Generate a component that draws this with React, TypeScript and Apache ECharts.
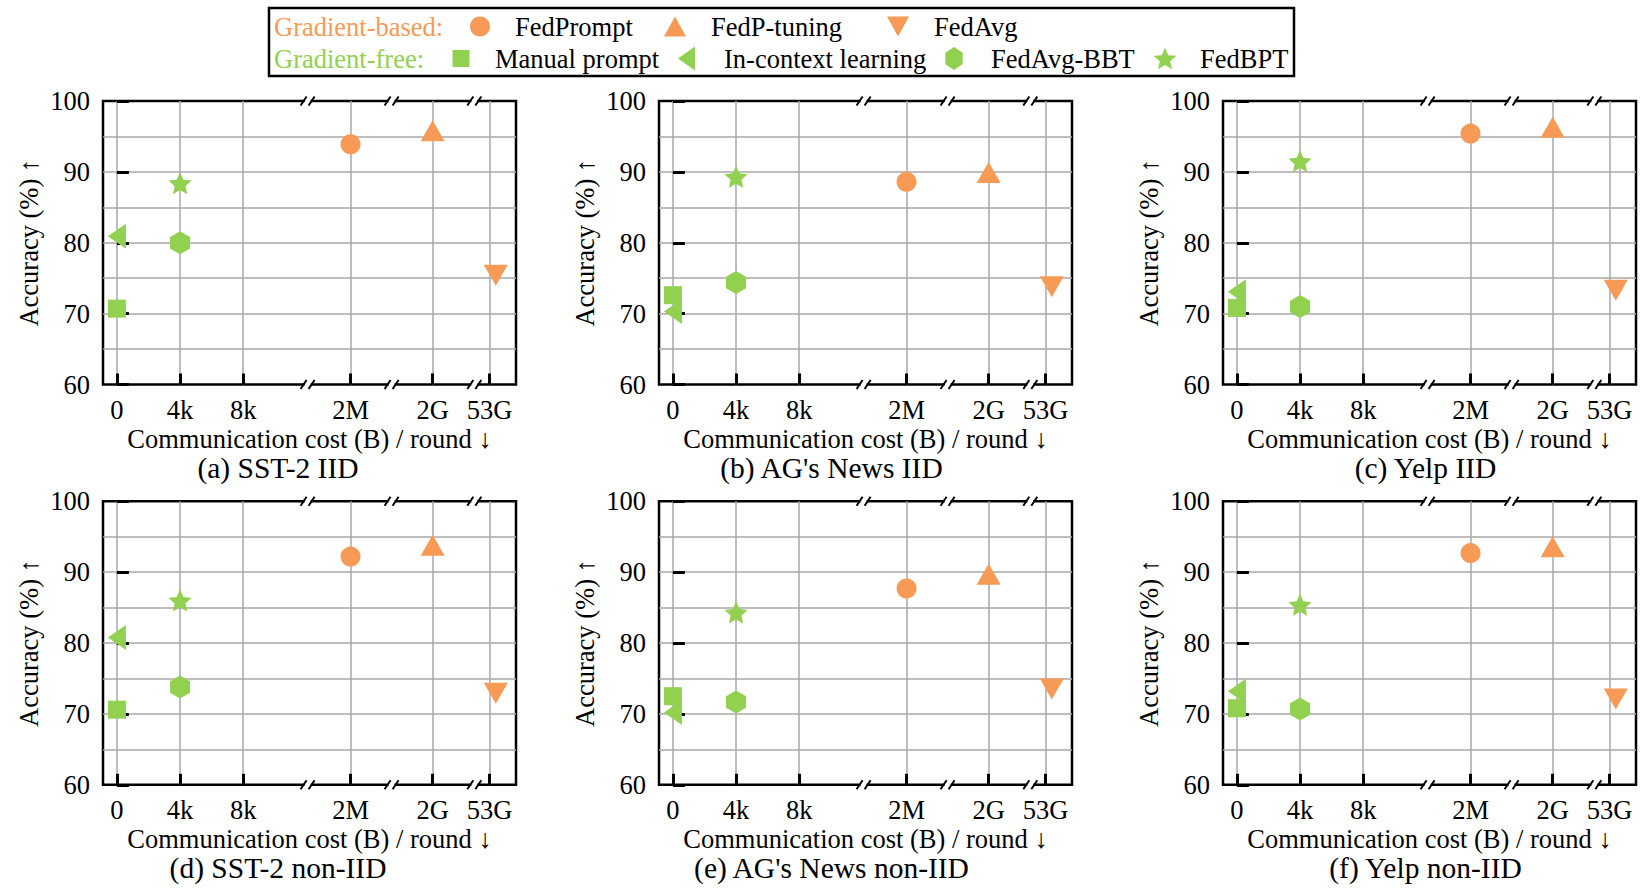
import React, { useEffect, useRef } from 'react';
import * as echarts from 'echarts';

// ---------- data ----------
const panelTitles = [
  '(a) SST-2 IID',
  "(b) AG's News IID",
  '(c) Yelp IID',
  '(d) SST-2 non-IID',
  "(e) AG's News non-IID",
  '(f) Yelp non-IID',
];
const xTickValues = [0, 1, 2, 3.7, 5, 5.9];
const xTickLabels = ['0', '4k', '8k', '2M', '2G', '53G'];
const xBreaks = [3.02, 4.35, 5.66];
const yTicks = [60, 70, 80, 90, 100];

const methods = ['FedPrompt', 'FedP-tuning', 'FedAvg', 'Manual prompt', 'In-context learning', 'FedAvg-BBT', 'FedBPT'];
const methodCost = [3.7, 5, 6.0, 0, 0, 1, 1]; // position on the broken cost axis

// accuracy per panel (a..f)
const fedPrompt = [93.9, 88.6, 95.4, 92.2, 87.7, 92.7];
const fedPTuning = [95.8, 89.9, 96.3, 93.8, 89.7, 93.6];
const fedAvg = [75.4, 73.8, 73.3, 72.9, 73.5, 72.1];
const manualPrompt = [70.7, 72.6, 70.8, 70.6, 72.5, 70.8];
const inContext = [80.9, 70.3, 73.1, 80.8, 70.2, 73.2];
const fedAvgBBT = [80.0, 74.4, 71.0, 73.8, 71.7, 70.7];
const fedBPT = [88.4, 89.3, 91.5, 86.0, 84.3, 85.4];
const methodValues = [fedPrompt, fedPTuning, fedAvg, manualPrompt, inContext, fedAvgBBT, fedBPT];

// ---------- style ----------
const ORANGE = '#F79A55';
const GREEN = '#92D050';
const GRID = '#A8A8A8';
const FONT = '"Liberation Serif", "Times New Roman", serif';

const HEX = 'path://M0,-10L8.66,-5L8.66,5L0,10L-8.66,5L-8.66,-5Z';
const STAR =
  'path://M0,-10L2.8,-3.85L9.51,-3.09L4.5,1.46L5.878,8.09L0,4.7L-5.878,8.09L-4.5,1.46L-9.51,-3.09L-2.8,-3.85Z';

const methodStyle = [
  { color: ORANGE, symbol: 'circle', size: 20, rotate: 0 },
  { color: ORANGE, symbol: 'triangle', size: [24, 21], rotate: 0 },
  { color: ORANGE, symbol: 'triangle', size: [24, 21], rotate: 180 },
  { color: GREEN, symbol: 'rect', size: 18, rotate: 0 },
  { color: GREEN, symbol: 'triangle', size: [25, 18], rotate: 90 },
  { color: GREEN, symbol: HEX, size: [20, 23], rotate: 0 },
  { color: GREEN, symbol: STAR, size: [23, 22], rotate: 0 },
];

const colLeft = [103, 659, 1223];
const rowTop = [101, 501.3];
const plotW = 413;
const plotH = 283.5;
const subtitleX = [278, 831.5, 1425.5];
const subtitleY = [467.5, 868];

function nearestLabel(v: number) {
  let best = 0;
  for (let i = 1; i < xTickValues.length; i++) {
    if (Math.abs(xTickValues[i] - v) < Math.abs(xTickValues[best] - v)) best = i;
  }
  return Math.abs(xTickValues[best] - v) < 1e-6 ? xTickLabels[best] : '';
}

function polyStar(cx: number, cy: number, ro: number, ri: number) {
  const pts: number[][] = [];
  for (let k = 0; k < 10; k++) {
    const r = k % 2 === 0 ? ro : ri;
    const a = -Math.PI / 2 + (k * Math.PI) / 5;
    pts.push([cx + r * Math.cos(a), cy + r * Math.sin(a)]);
  }
  return pts;
}
function polyHex(cx: number, cy: number, rx: number, ry: number) {
  const pts: number[][] = [];
  for (let k = 0; k < 6; k++) {
    const a = -Math.PI / 2 + (k * Math.PI) / 3;
    pts.push([cx + rx * Math.cos(a), cy + ry * Math.sin(a)]);
  }
  return pts;
}

function buildOption() {
  const grids: any[] = [];
  const xAxes: any[] = [];
  const yAxes: any[] = [];
  const series: any[] = [];
  const graphics: any[] = [];

  for (let p = 0; p < 6; p++) {
    const r = Math.floor(p / 3);
    const c = p % 3;
    grids.push({
      left: colLeft[c],
      top: rowTop[r],
      width: plotW,
      height: plotH,
      show: true,
      borderColor: '#000',
      borderWidth: 2.5,
      backgroundColor: 'transparent',
      containLabel: false,
    });
    xAxes.push({
      type: 'value',
      gridIndex: p,
      min: -0.22,
      max: 6.32,
      axisLine: { show: false },
      axisTick: { show: true, inside: true, length: 11, lineStyle: { color: '#000', width: 3 }, customValues: xTickValues },
      axisLabel: {
        customValues: xTickValues,
        formatter: (v: number) => nearestLabel(v),
        margin: 12,
        fontFamily: FONT,
        fontSize: 26.5,
        color: '#000',
      },
      splitLine: { show: true, lineStyle: { color: GRID, width: 1.5 } },
      name: 'Communication cost (B) / round ↓',
      nameLocation: 'middle',
      nameGap: 41,
      nameTextStyle: { fontFamily: FONT, fontSize: 26.5, color: '#000' },
    });
    yAxes.push({
      type: 'value',
      gridIndex: p,
      min: yTicks[0],
      max: yTicks[yTicks.length - 1],
      interval: 10,
      axisLine: { show: false },
      axisTick: { show: true, inside: true, length: 12, lineStyle: { color: '#000', width: 3 } },
      axisLabel: { margin: 13, fontFamily: FONT, fontSize: 26.5, color: '#000' },
      splitLine: { show: true, showMinLine: false, showMaxLine: false, lineStyle: { color: GRID, width: 1.5 } },
      minorTick: { show: false, splitNumber: 2 },
      minorSplitLine: { show: true, lineStyle: { color: GRID, width: 1.5 } },
      name: 'Accuracy (%) ↑',
      nameLocation: 'middle',
      nameGap: 61,
      nameRotate: 90,
      nameTextStyle: { fontFamily: FONT, fontSize: 26.5, color: '#000' },
    });

    methods.forEach((m, k) => {
      const st = methodStyle[k];
      series.push({
        type: 'scatter',
        name: m,
        xAxisIndex: p,
        yAxisIndex: p,
        symbol: st.symbol,
        symbolSize: st.size,
        symbolRotate: st.rotate,
        itemStyle: { color: st.color, opacity: 1 },
        z: 5,
        data: [[methodCost[k], methodValues[k][p]]],
      });
    });

    series.push({
      type: 'custom',
      xAxisIndex: p,
      yAxisIndex: p,
      clip: false,
      silent: true,
      z: 20,
      data: xBreaks.map((b) => [b, yTicks[0]]),
      renderItem: (params: any, api: any) => {
        const x = api.value(0);
        const top = api.coord([x, yTicks[yTicks.length - 1]]);
        const bot = api.coord([x, yTicks[0]]);
        const mk = (q: number[]) => [
          { type: 'rect', shape: { x: q[0] - 3, y: q[1] - 3, width: 6, height: 6 }, style: { fill: '#fff' } },
          { type: 'line', shape: { x1: q[0] - 7, y1: q[1] + 4.5, x2: q[0] - 1, y2: q[1] - 4.5 }, style: { stroke: '#000', lineWidth: 2 } },
          { type: 'line', shape: { x1: q[0] + 1, y1: q[1] + 4.5, x2: q[0] + 7, y2: q[1] - 4.5 }, style: { stroke: '#000', lineWidth: 2 } },
        ];
        return { type: 'group', children: [...mk(top), ...mk(bot)] };
      },
    });

    graphics.push({
      type: 'text',
      x: subtitleX[c],
      y: subtitleY[r],
      style: { text: panelTitles[p], font: `29.5px ${FONT}`, fill: '#000', align: 'center', verticalAlign: 'middle' },
    });
  }

  // legend (drawn as graphic)
  const r1 = 26.5;
  const r2 = 58.5;
  const tf = `26.5px ${FONT}`;
  const txt = (t: string, x: number, y: number, fill = '#000') => ({
    type: 'text',
    x,
    y,
    style: { text: t, font: tf, fill, align: 'left', verticalAlign: 'middle' },
  });
  graphics.push({
    type: 'rect',
    shape: { x: 269, y: 8, width: 1025, height: 68 },
    style: { fill: '#fff', stroke: '#000', lineWidth: 2.5 },
    z: 0,
  });
  graphics.push(txt('Gradient-based:', 274, r1, ORANGE));
  graphics.push({ type: 'circle', shape: { cx: 480, cy: r1, r: 10 }, style: { fill: ORANGE } });
  graphics.push(txt(methods[0], 515, r1));
  graphics.push({ type: 'polygon', shape: { points: [[675, r1 - 10], [686, r1 + 10], [664, r1 + 10]] }, style: { fill: ORANGE } });
  graphics.push(txt(methods[1], 711, r1));
  graphics.push({ type: 'polygon', shape: { points: [[887, r1 - 10], [909, r1 - 10], [898, r1 + 10]] }, style: { fill: ORANGE } });
  graphics.push(txt(methods[2], 934, r1));

  graphics.push(txt('Gradient-free:', 274, r2, GREEN));
  graphics.push({ type: 'rect', shape: { x: 461 - 8.5, y: r2 - 8.5, width: 17, height: 17 }, style: { fill: GREEN } });
  graphics.push(txt(methods[3], 495, r2));
  graphics.push({ type: 'polygon', shape: { points: [[678, r2], [695, r2 - 12], [695, r2 + 12]] }, style: { fill: GREEN } });
  graphics.push(txt(methods[4], 724, r2));
  graphics.push({ type: 'polygon', shape: { points: polyHex(954, r2, 10, 11.5) }, style: { fill: GREEN } });
  graphics.push(txt(methods[5], 991, r2));
  graphics.push({ type: 'polygon', shape: { points: polyStar(1165, r2 + 1, 12, 5.4) }, style: { fill: GREEN } });
  graphics.push(txt(methods[6], 1200, r2));

  return {
    animation: false,
    backgroundColor: '#fff',
    grid: grids,
    xAxis: xAxes,
    yAxis: yAxes,
    series,
    graphic: graphics,
  };
}

export default function App() {
  const ref = useRef<HTMLDivElement>(null);
  useEffect(() => {
    if (!ref.current) return;
    const chart = echarts.init(ref.current, undefined, { renderer: 'svg' });
    chart.setOption(buildOption() as any);
    return () => chart.dispose();
  }, []);
  return (
    <div
      ref={ref}
      style={{ position: 'fixed', left: 0, top: 0, width: 1640, height: 889, background: '#fff' }}
    />
  );
}
